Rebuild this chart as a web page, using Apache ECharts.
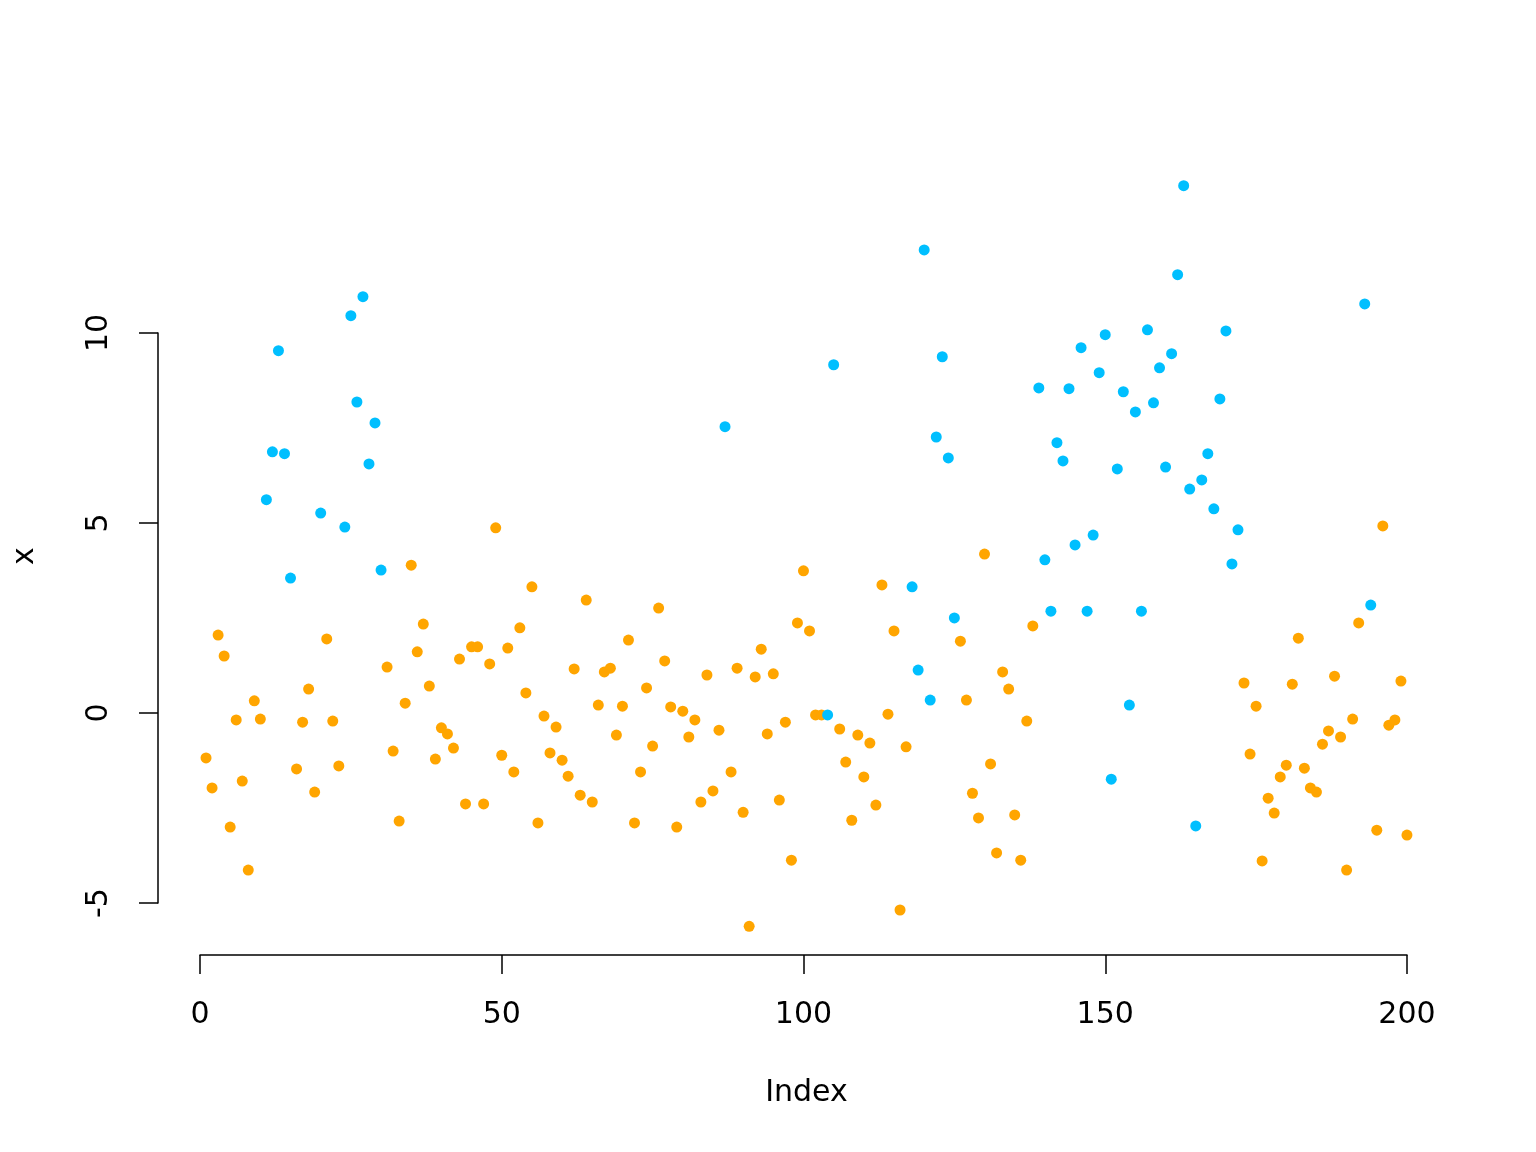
<!DOCTYPE html>
<html>
<head>
<meta charset="utf-8">
<script src="https://cdn.jsdelivr.net/npm/echarts@6/dist/echarts.min.js"></script>
<style>
html, body { margin: 0; padding: 0; background: #fff; }
#chart { width: 1536px; height: 1152px; }
</style>
</head>
<body>
<div id="chart"></div>
<script>
// values, index 1..200
const x = [
  -1.18, -1.97, 2.05, 1.50, -3.00, -0.18, -1.79, -4.13, 0.32, -0.16,
  5.61, 6.87, 9.53, 6.82, 3.55, -1.47, -0.24, 0.63, -2.08, 5.26,
  1.95, -0.21, -1.39, 4.89, 10.45, 8.18, 10.95, 6.55, 7.63, 3.76,
  1.21, -1.00, -2.84, 0.26, 3.89, 1.61, 2.34, 0.71, -1.21, -0.39,
  -0.55, -0.92, 1.42, -2.39, 1.74, 1.74, -2.39, 1.29, 4.87, -1.11,
  1.71, -1.55, 2.24, 0.53, 3.32, -2.89, -0.08, -1.05, -0.37, -1.24,
  -1.66, 1.16, -2.16, 2.97, -2.34, 0.21, 1.08, 1.18, -0.58, 0.18,
  1.92, -2.89, -1.55, 0.66, -0.87, 2.76, 1.37, 0.16, -3.00, 0.05,
  -0.63, -0.18, -2.34, 1.00, -2.05, -0.45, 7.53, -1.55, 1.18, -2.61,
  -5.61, 0.95, 1.68, -0.55, 1.03, -2.29, -0.24, -3.87, 2.37, 3.74,
  2.16, -0.05, -0.05, -0.05, 9.16, -0.42, -1.29, -2.82, -0.58, -1.68,
  -0.79, -2.42, 3.37, -0.03, 2.16, -5.18, -0.89, 3.32, 1.13, 12.18,
  0.34, 7.26, 9.37, 6.71, 2.50, 1.89, 0.34, -2.11, -2.76, 4.18,
  -1.34, -3.68, 1.08, 0.63, -2.68, -3.87, -0.21, 2.29, 8.55, 4.03,
  2.68, 7.11, 6.63, 8.53, 4.42, 9.61, 2.68, 4.68, 8.95, 9.95,
  -1.74, 6.42, 8.45, 0.21, 7.92, 2.68, 10.08, 8.16, 9.08, 6.47,
  9.45, 11.53, 13.87, 5.89, -2.97, 6.13, 6.82, 5.37, 8.26, 10.05,
  3.92, 4.82, 0.79, -1.08, 0.18, -3.89, -2.24, -2.63, -1.68, -1.37,
  0.76, 1.97, -1.45, -1.97, -2.08, -0.82, -0.47, 0.97, -0.63, -4.13,
  -0.16, 2.37, 10.76, 2.84, -3.08, 4.92, -0.32, -0.18, 0.84, -3.21
]
// 0 = orange, 1 = blue
const state = [
  0, 0, 0, 0, 0, 0, 0, 0, 0, 0, 1, 1, 1, 1, 1, 0, 0, 0, 0, 1,
  0, 0, 0, 1, 1, 1, 1, 1, 1, 1, 0, 0, 0, 0, 0, 0, 0, 0, 0, 0,
  0, 0, 0, 0, 0, 0, 0, 0, 0, 0, 0, 0, 0, 0, 0, 0, 0, 0, 0, 0,
  0, 0, 0, 0, 0, 0, 0, 0, 0, 0, 0, 0, 0, 0, 0, 0, 0, 0, 0, 0,
  0, 0, 0, 0, 0, 0, 1, 0, 0, 0, 0, 0, 0, 0, 0, 0, 0, 0, 0, 0,
  0, 0, 0, 1, 1, 0, 0, 0, 0, 0, 0, 0, 0, 0, 0, 0, 0, 1, 1, 1,
  1, 1, 1, 1, 1, 0, 0, 0, 0, 0, 0, 0, 0, 0, 0, 0, 0, 0, 1, 1,
  1, 1, 1, 1, 1, 1, 1, 1, 1, 1, 1, 1, 1, 1, 1, 1, 1, 1, 1, 1,
  1, 1, 1, 1, 1, 1, 1, 1, 1, 1, 1, 1, 0, 0, 0, 0, 0, 0, 0, 0,
  0, 0, 0, 0, 0, 0, 0, 0, 0, 0, 0, 0, 1, 1, 0, 0, 0, 0, 0, 0
]
const xTicks = [0, 50, 100, 150, 200]
const yTicks = [-5, 0, 5, 10]
const colors = ['#FFA500', '#00BFFF']

const font = 'DejaVu Sans'
const chart = echarts.init(document.getElementById('chart'))

const groupData = (g) => x.map((v, i) => [i + 1, v]).filter((d, i) => state[i] === g)

const lineStyle = { color: '#000', width: 1.5 }

const option = {
  backgroundColor: '#fff',
  animation: false,
  grid: [
    // plot region (R usr with 4% padding)
    { left: 158, right: 81, top: 156, bottom: 196, outerBoundsMode: 'none' },
    // x axis, drawn only from first to last tick
    { left: 200, right: 129, top: 156, bottom: 197, outerBoundsMode: 'none' },
    // y axis, drawn only from first to last tick
    { left: 158, right: 81, top: 333, bottom: 249, outerBoundsMode: 'none' }
  ],
  xAxis: [
    {
      gridIndex: 0, type: 'value', min: -6.96, max: 207.96,
      axisLine: { show: false }, axisTick: { show: false },
      axisLabel: { show: false }, splitLine: { show: false },
      name: 'Index', nameLocation: 'middle', nameGap: 122,
      nameTextStyle: { fontFamily: font, fontSize: 30, color: '#000' }
    },
    {
      gridIndex: 1, type: 'value', min: xTicks[0], max: xTicks[xTicks.length - 1], interval: 50,
      axisLine: { show: true, lineStyle: lineStyle },
      axisTick: { show: true, length: 19, lineStyle: lineStyle },
      axisLabel: { fontFamily: font, fontSize: 30, color: '#000', margin: 45 },
      splitLine: { show: false }
    },
    {
      gridIndex: 2, type: 'value', show: false
    }
  ],
  yAxis: [
    {
      gridIndex: 0, type: 'value', min: -6.39, max: 14.65,
      axisLine: { show: false }, axisTick: { show: false },
      axisLabel: { show: false }, splitLine: { show: false },
      name: 'x', nameLocation: 'middle', nameGap: 118,
      nameTextStyle: { fontFamily: font, fontSize: 30, color: '#000' }
    },
    {
      gridIndex: 1, type: 'value', show: false
    },
    {
      gridIndex: 2, type: 'value', min: yTicks[0], max: yTicks[yTicks.length - 1], interval: 5,
      axisLine: { show: true, lineStyle: lineStyle },
      axisTick: { show: true, length: 19, lineStyle: lineStyle },
      axisLabel: { fontFamily: font, fontSize: 30, color: '#000', margin: 44, rotate: 90 },
      splitLine: { show: false }
    }
  ],
  series: [0, 1].map(g => ({
    type: 'scatter',
    xAxisIndex: 0,
    yAxisIndex: 0,
    symbol: 'circle',
    symbolSize: 11,
    itemStyle: { color: colors[g], opacity: 1 },
    data: groupData(g)
  }))
}

chart.setOption(option)
</script>
</body>
</html>
